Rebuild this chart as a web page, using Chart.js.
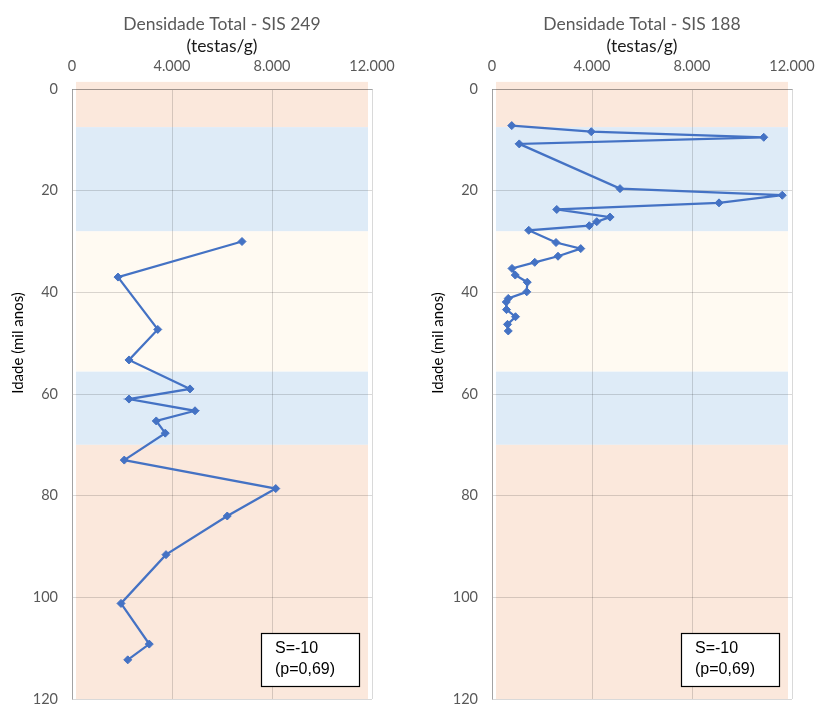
<!DOCTYPE html>
<html>
<head>
<meta charset="utf-8">
<script src="https://cdn.jsdelivr.net/npm/chart.js@4.4.0/dist/chart.umd.min.js"></script>
<style>
  html, body { margin: 0; padding: 0; background: #fff; overflow: hidden; }
  #wrap { position: relative; width: 816px; height: 704px; overflow: hidden; }
  .box { position: absolute; top: 0; width: 444px; height: 704px; }
</style>
</head>
<body>
<div id="wrap">
  <div class="box" style="left:0"><canvas id="c249" width="444" height="704"></canvas></div>
  <div class="box" style="left:420px"><canvas id="c188" width="444" height="704"></canvas></div>
</div>
<script>
// idade (mil anos) x densidade (testas/g)
var ages249 = [30.0, 37.0, 47.3, 53.3, 59.0, 61.0, 63.3, 65.3, 67.7, 73.0, 78.6, 84.0, 91.6, 101.2, 109.2, 112.3];
var dens249 = [6800, 1840, 3430, 2280, 4720, 2280, 4920, 3370, 3730, 2090, 8150, 6210, 3760, 1960, 3090, 2230];

var ages188 = [7.2, 8.4, 9.5, 10.8, 19.6, 20.9, 22.4, 23.7, 25.2, 26.1, 26.9, 27.8, 30.2, 31.4, 32.9, 34.1, 35.3, 36.6, 38.0, 39.9, 41.2, 41.9, 43.4, 44.8, 46.3, 47.6];
var dens188 = [790, 3970, 10870, 1090, 5120, 11610, 9080, 2590, 4720, 4190, 3890, 1470, 2560, 3550, 2640, 1710, 800, 930, 1410, 1390, 650, 570, 580, 940, 620, 650];

// faixas de fundo (mil anos)
var bandFrom = [-1.4, 7.5, 28, 55.6, 70];
var bandTo = [7.5, 28, 55.6, 70, 120];
var bandColors = ['#FBE8DC', '#DEEBF7', '#FFFAF2', '#DEEBF7', '#FBE8DC'];

var xTicks = [0, 4000, 8000, 12000];
var yTicks = [0, 20, 40, 60, 80, 100, 120];

var stat249 = ['S=-10', '(p=0,69)'];
var stat188 = ['S=-10', '(p=0,69)'];

var yTitle = 'Idade (mil anos)';
var subTitle = '(testas/g)';

Chart.defaults.font.family = 'Lato';

function fmt(v) {
    return String(v).replace(/\B(?=(\d{3})+(?!\d))/g, '.');
}

// fundo colorido, desenhado antes da grade
var bandPlugin = {
    id: 'faixas',
    beforeDraw: function(chart) {
        var ctx = chart.ctx, a = chart.chartArea, y = chart.scales.y;
        ctx.save();
        for (var i = 0; i < bandFrom.length; i++) {
            var y0 = y.getPixelForValue(bandFrom[i]);
            var y1 = y.getPixelForValue(bandTo[i]);
            ctx.fillStyle = bandColors[i];
            ctx.fillRect(a.left + 4, y0, a.right - a.left - 8, y1 - y0);
        }
        ctx.restore();
    }
};

// titulo do eixo y e caixa com S / p
var extrasPlugin = {
    id: 'extras',
    afterDraw: function(chart) {
        var ctx = chart.ctx, a = chart.chartArea;
        var lines = chart.options.plugins.extras.stat;
        ctx.save();
        ctx.translate(18, 343);
        ctx.rotate(-Math.PI / 2);
        ctx.font = '15px Lato';
        ctx.fillStyle = '#000';
        ctx.textAlign = 'center';
        ctx.textBaseline = 'middle';
        ctx.fillText(yTitle, 0, 0);
        ctx.restore();

        var bw = 98, bh = 53;
        var bx = Math.round(a.right - 13 - bw), by = Math.round(a.bottom - 13 - bh);
        ctx.save();
        ctx.fillStyle = '#fff';
        ctx.fillRect(bx, by, bw, bh);
        ctx.strokeStyle = '#000';
        ctx.lineWidth = 1.2;
        ctx.strokeRect(bx + 0.5, by + 0.5, bw, bh);
        ctx.font = '16px "Liberation Sans"';
        ctx.fillStyle = '#000';
        ctx.textAlign = 'left';
        ctx.textBaseline = 'middle';
        ctx.fillText(lines[0], bx + 14, by + 16);
        ctx.fillText(lines[1], bx + 14, by + 37);
        ctx.restore();
    }
};

function makeChart(id, title, dens, ages, stat) {
    var pts = [];
    for (var i = 0; i < ages.length; i++) {
        pts.push({x: dens[i], y: ages[i]});
    }
    var ctx = document.getElementById(id).getContext('2d');
    return new Chart(ctx, {
        type: 'scatter',
        data: {
            datasets: [{
                data: pts,
                showLine: true,
                borderColor: '#4472C4',
                backgroundColor: '#4472C4',
                borderWidth: 2.25,
                pointStyle: 'rectRot',
                pointRadius: 4,
                pointBorderWidth: 1
            }]
        },
        options: {
            responsive: false,
            animation: false,
            devicePixelRatio: 1,
            layout: { padding: { top: 0, left: 0, right: 0, bottom: 5 } },
            plugins: {
                legend: { display: false },
                tooltip: { enabled: false },
                title: {
                    display: true, text: title, color: '#595959',
                    font: { size: 17.5, weight: 'normal' },
                    padding: { top: 14, bottom: 0 }
                },
                subtitle: {
                    display: true, text: subTitle, color: '#1a1a1a',
                    font: { size: 17.5, weight: 'normal' },
                    padding: { top: 0.5, bottom: 0 }
                },
                extras: { stat: stat }
            },
            scales: {
                x: {
                    type: 'linear', position: 'top',
                    min: xTicks[0], max: xTicks[xTicks.length - 1],
                    afterBuildTicks: function(s) { s.ticks = xTicks.map(function(v) { return {value: v}; }); },
                    ticks: { padding: 14, color: '#595959', font: { size: 14.5 }, callback: fmt },
                    grid: { color: 'rgba(0,0,0,0.15)', drawTicks: false },
                    border: { color: 'rgba(0,0,0,0.25)' },
                    afterFit: function(s) { s.height = 32.5; s.paddingLeft = 0; s.paddingRight = 0; }
                },
                y: {
                    type: 'linear', reverse: true,
                    min: yTicks[0], max: yTicks[yTicks.length - 1],
                    afterBuildTicks: function(s) { s.ticks = yTicks.map(function(v) { return {value: v}; }); },
                    ticks: { padding: 14, color: '#595959', font: { size: 14.5 } },
                    grid: { color: 'rgba(0,0,0,0.15)', drawTicks: false },
                    border: { color: 'rgba(0,0,0,0.25)' },
                    afterFit: function(s) { s.width = 72; s.paddingTop = 0; s.paddingBottom = 0; }
                },
                y2: {
                    type: 'linear', position: 'right',
                    ticks: { display: false },
                    grid: { display: false },
                    border: { display: false },
                    afterFit: function(s) { s.width = 72; s.paddingTop = 0; s.paddingBottom = 0; }
                }
            }
        },
        plugins: [bandPlugin, extrasPlugin]
    });
}

makeChart('c249', 'Densidade Total - SIS 249', dens249, ages249, stat249);
makeChart('c188', 'Densidade Total - SIS 188', dens188, ages188, stat188);
</script>
</body>
</html>
